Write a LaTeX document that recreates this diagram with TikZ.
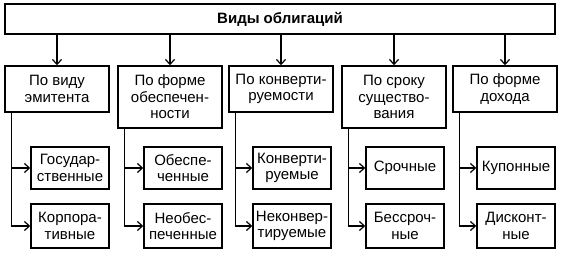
\documentclass[tikz,border=0pt]{standalone}
\usepackage{fontspec}
\setmainfont{Liberation Sans}
\usetikzlibrary{arrows.meta}
\begin{document}
\begin{tikzpicture}[x=1pt,y=-1pt,
  every node/.style={font=\fontsize{15}{16.5}\selectfont},
  box/.style={draw=black,line width=1.4pt,inner sep=0pt,align=center,anchor=center},
  catbox/.style={box,minimum width=104pt},
  subbox/.style={box,minimum width=78pt},
  arr/.style={line width=1.2pt,-{Straight Barb[length=5pt,width=9pt,line width=1.2pt]}},
  lin/.style={line width=1.2pt}]
\useasboundingbox (0,0) rectangle (563,256);
\node[box,minimum width=550pt,minimum height=30pt,font=\fontsize{15}{16.5}\selectfont\bfseries] (top) at (280,19) {Виды облигаций};
% categories
\node[catbox,minimum height=46pt] (c1) at (57,89) {По виду\\эмитента};
\node[catbox,minimum height=62pt] (c2) at (170,97) {По форме\\обеспечен-\\ности};
\node[catbox,minimum height=46pt] (c3) at (281,89) {По конверти-\\руемости};
\node[catbox,minimum height=62pt] (c4) at (394,97) {По сроку\\существо-\\вания};
\node[catbox,minimum height=46pt] (c5) at (505,89) {По форме\\дохода};
\foreach \i in {1,...,5}{
  \draw[arr] (top.south -| c\i.north) -- (c\i.north);
}
% sub boxes
\node[subbox,minimum height=42pt] (s11) at (70,168) {Государ-\\ственные};
\node[subbox,minimum height=44pt] (s12) at (70,226) {Корпора-\\тивные};
\node[subbox,minimum height=42pt] (s21) at (183,168) {Обеспе-\\ченные};
\node[subbox,minimum height=44pt] (s22) at (183,226) {Необес-\\печенные};
\node[subbox,minimum height=42pt] (s31) at (292,168) {Конверти-\\руемые};
\node[subbox,minimum height=44pt] (s32) at (292,226) {Неконвер-\\тируемые};
\node[subbox,minimum height=42pt] (s41) at (405,168) {Срочные};
\node[subbox,minimum height=44pt] (s42) at (405,226) {Бессроч-\\ные};
\node[subbox,minimum height=42pt] (s51) at (516,168) {Купонные};
\node[subbox,minimum height=44pt] (s52) at (516,226) {Дисконт-\\ные};
\foreach \i in {1,...,5}{
  \coordinate (v\i) at ([xshift=7pt]c\i.south west);
  \draw[arr] (v\i) |- (s\i2.west);
  \draw[arr] (v\i |- s\i1.west) -- (s\i1.west);
}
\end{tikzpicture}
\end{document}
